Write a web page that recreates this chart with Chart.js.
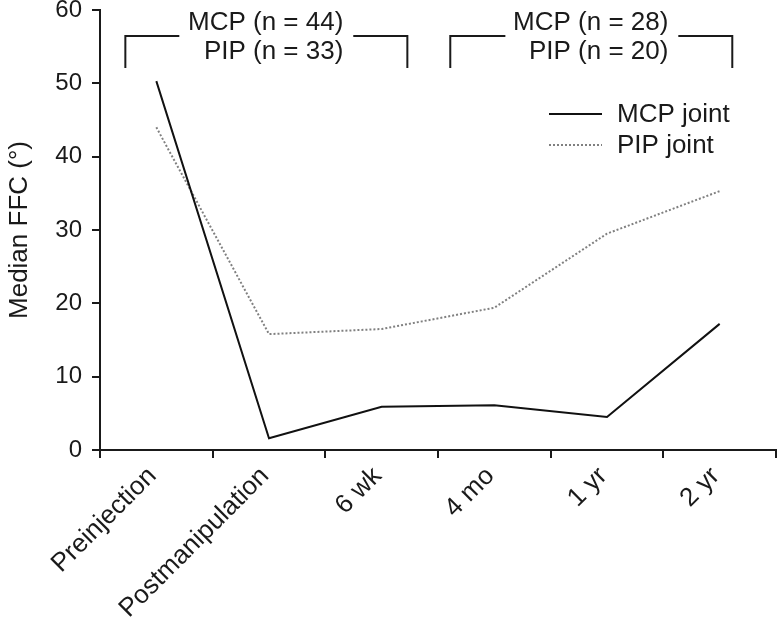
<!DOCTYPE html>
<html>
<head>
<meta charset="utf-8">
<script src="https://cdn.jsdelivr.net/npm/chart.js@4.4.1/dist/chart.umd.min.js"></script>
<style>
  html, body { margin: 0; padding: 0; background: #fff; }
  #wrap { width: 778px; height: 618px; position: relative; }
</style>
</head>
<body>
<div id="wrap"><canvas id="c"></canvas></div>
<script>
// ---- data ----
const categories = ['Preinjection', 'Postmanipulation', '6 wk', '4 mo', '1 yr', '2 yr'];
const mcpValues = [50.3, 1.6, 5.9, 6.1, 4.5, 17.2];
const pipValues = [44.0, 15.8, 16.5, 19.4, 29.5, 35.3];
const seriesNames = ['MCP joint', 'PIP joint'];
const yTicks = [0, 10, 20, 30, 40, 50, 60];
const groupTop = ['MCP (n = 44)', 'MCP (n = 28)'];
const groupBottom = ['PIP (n = 33)', 'PIP (n = 20)'];

// ---- annotation layout (category-index / value units) ----
const bracketLayout = [
  { left: -0.275, leftEnd: 0.204, rightStart: 1.748, right: 2.228, textRight: 1.66 },
  { left: 2.609, leftEnd: 3.098, rightStart: 4.633, right: 5.112, textRight: 4.545 }
];
const bracketY = { top: 56.45, bottom: 52.1, line1: 57.27, line2: 53.3 };

const FONT = '"Liberation Sans", Arial, Helvetica, sans-serif';
const INK = '#1a1a1a';

const bracketPlugin = {
  id: 'brackets',
  afterDraw(chart) {
    const ctx = chart.ctx, xs = chart.scales.x, ys = chart.scales.y;
    ctx.save();
    ctx.strokeStyle = INK;
    ctx.lineWidth = 2;
    ctx.fillStyle = INK;
    ctx.font = '26px ' + FONT;
    ctx.textAlign = 'right';
    ctx.textBaseline = 'alphabetic';
    const yt = ys.getPixelForValue(bracketY.top);
    const yb = ys.getPixelForValue(bracketY.bottom);
    bracketLayout.forEach((b, i) => {
      const xl = xs.getPixelForValue(b.left), xle = xs.getPixelForValue(b.leftEnd);
      const xrs = xs.getPixelForValue(b.rightStart), xr = xs.getPixelForValue(b.right);
      ctx.beginPath();
      ctx.moveTo(xl, yb); ctx.lineTo(xl, yt); ctx.lineTo(xle, yt);
      ctx.moveTo(xrs, yt); ctx.lineTo(xr, yt); ctx.lineTo(xr, yb);
      ctx.stroke();
      const tx = xs.getPixelForValue(b.textRight);
      ctx.fillText(groupTop[i], tx, ys.getPixelForValue(bracketY.line1));
      ctx.fillText(groupBottom[i], tx, ys.getPixelForValue(bracketY.line2));
    });
    ctx.restore();
  }
};

const legendPlugin = {
  id: 'insideLegend',
  afterDraw(chart) {
    const ctx = chart.ctx, area = chart.chartArea;
    ctx.save();
    ctx.font = '26px ' + FONT;
    ctx.fillStyle = INK;
    ctx.textAlign = 'left';
    ctx.textBaseline = 'middle';
    const x0 = area.right - 227, x1 = area.right - 174, tx = area.right - 159;
    chart.data.datasets.forEach((ds, i) => {
      const y = area.top + 104 + i * 31;
      ctx.strokeStyle = ds.borderColor;
      ctx.lineWidth = ds.borderWidth;
      ctx.setLineDash(ds.borderDash || []);
      ctx.beginPath(); ctx.moveTo(x0, y); ctx.lineTo(x1, y); ctx.stroke();
      ctx.setLineDash([]);
      ctx.fillText(ds.label, tx, y + 1);
    });
    ctx.restore();
  }
};

new Chart(document.getElementById('c'), {
  type: 'line',
  data: {
    labels: categories,
    datasets: [
      { label: seriesNames[0], data: mcpValues, borderColor: '#111', borderWidth: 2,
        pointRadius: 0, tension: 0, fill: false },
      { label: seriesNames[1], data: pipValues, borderColor: '#808080', borderWidth: 2,
        borderDash: [2, 2], pointRadius: 0, tension: 0, fill: false }
    ]
  },
  options: {
    responsive: true,
    maintainAspectRatio: false,
    animation: false,
    layout: { padding: { top: 10, right: 2, left: 0, bottom: 0 } },
    plugins: { legend: { display: false }, tooltip: { enabled: false } },
    scales: {
      x: {
        type: 'category',
        offset: true,
        grid: { offset: true, drawOnChartArea: false, drawTicks: true, tickLength: 8, color: INK, lineWidth: 2 },
        border: { display: true, color: INK, width: 2 },
        ticks: { minRotation: 45, maxRotation: 45, autoSkip: false, color: INK, padding: 3, labelOffset: -4,
                 font: { family: FONT, size: 26 } },
        afterFit(s) { s.height = 168; s.paddingLeft = 0; s.paddingRight = 0; }
      },
      y: {
        min: 0, max: 60,
        afterBuildTicks(s) { s.ticks = yTicks.map(v => ({ value: v })); },
        grid: { drawOnChartArea: false, drawTicks: true, tickLength: 8, color: INK, lineWidth: 2 },
        border: { display: true, color: INK, width: 2 },
        ticks: { color: INK, padding: 10, font: { family: FONT, size: 24 } },
        title: { display: true, text: 'Median FFC (°)', color: INK, font: { family: FONT, size: 26 },
                 padding: { top: 4, bottom: 0 } },
        afterFit(s) { s.width = 100; s.paddingTop = 0; s.paddingBottom = 0; }
      }
    }
  },
  plugins: [bracketPlugin, legendPlugin]
});
</script>
</body>
</html>
